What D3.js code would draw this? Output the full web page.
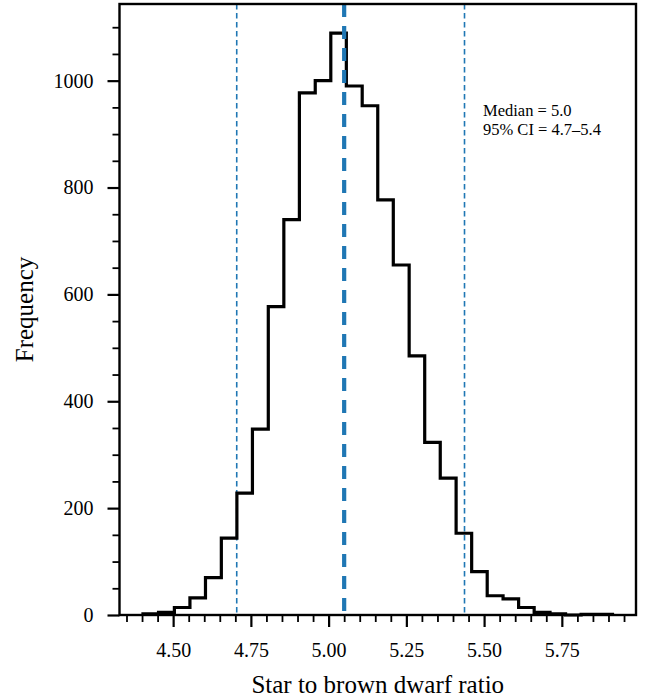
<!DOCTYPE html>
<html>
<head>
<meta charset="utf-8">
<script src="https://cdn.jsdelivr.net/npm/d3@7"></script>
<style>
  html, body { margin: 0; padding: 0; background: #fff; }
  svg { display: block; }
  text { font-family: "Liberation Serif", "Times New Roman", serif; fill: #000; }
</style>
</head>
<body>
<svg id="chart" width="654" height="699"></svg>
<script>
// ---- Data ----
const binEdges = [4.403, 4.453, 4.504, 4.554, 4.604, 4.655, 4.705, 4.755, 4.806, 4.856,
                  4.906, 4.957, 5.007, 5.057, 5.108, 5.158, 5.208, 5.259, 5.309, 5.359,
                  5.410, 5.460, 5.510, 5.561, 5.611, 5.661, 5.712, 5.762, 5.812, 5.863, 5.913];
const counts = [2, 5, 14, 32, 70, 144, 228, 348, 577, 740,
                977, 1000, 1089, 990, 953, 777, 655, 485, 323, 256,
                153, 81, 36, 30, 14, 5, 2, 0, 1, 1];
const medianValue = 5.05;
const ciValues = [4.7045, 5.437];
const xTickValues = [4.50, 4.75, 5.00, 5.25, 5.50, 5.75];
const yTickValues = [0, 200, 400, 600, 800, 1000];
const annotationLines = ["Median = 5.0", "95% CI = 4.7\u20135.4"];
const xLabel = "Star to brown dwarf ratio";
const yLabel = "Frequency";

// ---- Layout ----
const L = 119.5, R = 636, T = 4, B = 615;
const svg = d3.select("#chart");

const lo = binEdges[0], hi = binEdges[binEdges.length - 1];
const xm = (hi - lo) * 0.05;
const x = d3.scaleLinear().domain([lo - xm, hi + xm]).range([L, R]);
const y = d3.scaleLinear().domain([0, d3.max(counts) * 1.05]).range([B, T]);

const blue = "#1f77b4";

// minor tick values
const xMinor = d3.range(4.35, 5.96, 0.05).map(v => +v.toFixed(2)).filter(v => !xTickValues.some(t => Math.abs(t - v) < 1e-6));
const yMinor = d3.range(50, 1101, 50).filter(v => v % 200 !== 0);

// ---- Histogram step outline ----
const pts = [[binEdges[0], 0]];
counts.forEach((c, i) => { pts.push([binEdges[i], c]); pts.push([binEdges[i + 1], c]); });
pts.push([binEdges[binEdges.length - 1], 0]);
const line = d3.line().x(d => x(d[0])).y(d => y(d[1]));

// Vertical reference lines
svg.selectAll("line.ci").data(ciValues).join("line")
  .attr("class", "ci")
  .attr("x1", d => x(d)).attr("x2", d => x(d))
  .attr("y1", T).attr("y2", B)
  .attr("stroke", blue).attr("stroke-width", 1.6)
  .attr("stroke-dasharray", "5.5,3.5");

svg.append("path")
  .attr("d", line(pts))
  .attr("fill", "none")
  .attr("stroke", "#000")
  .attr("stroke-width", 3.2)
  .attr("stroke-linejoin", "miter");

svg.append("line")
  .attr("x1", x(medianValue)).attr("x2", x(medianValue))
  .attr("y1", T).attr("y2", B)
  .attr("stroke", blue).attr("stroke-width", 4.2)
  .attr("stroke-dasharray", "13,9");

// ---- Axes ----
const xAxis = svg.append("g").attr("transform", `translate(0,${B})`)
  .call(d3.axisBottom(x).tickValues(xTickValues).tickFormat(d3.format(".2f")).tickSize(12).tickPadding(16));
const xAxisMinor = svg.append("g").attr("transform", `translate(0,${B})`)
  .call(d3.axisBottom(x).tickValues(xMinor).tickFormat("").tickSize(7));
const yAxis = svg.append("g").attr("transform", `translate(${L},0)`)
  .call(d3.axisLeft(y).tickValues(yTickValues).tickFormat(d3.format("d")).tickSize(12).tickPadding(14));
const yAxisMinor = svg.append("g").attr("transform", `translate(${L},0)`)
  .call(d3.axisLeft(y).tickValues(yMinor).tickFormat("").tickSize(7));

[xAxis, xAxisMinor, yAxis, yAxisMinor].forEach(g => g.select(".domain").remove());
[xAxis, yAxis].forEach(g => g.selectAll(".tick line").attr("stroke", "#000").attr("stroke-width", 2.2));
[xAxisMinor, yAxisMinor].forEach(g => g.selectAll(".tick line").attr("stroke", "#000").attr("stroke-width", 1.8));
[xAxis, yAxis].forEach(g => g.selectAll(".tick text")
  .style("font-family", "'Liberation Serif', 'Times New Roman', serif")
  .style("font-size", "20px").attr("fill", "#000"));
xAxis.selectAll(".tick text").attr("dy", "0.71em");

// Frame (spines)
svg.append("rect")
  .attr("x", L).attr("y", T).attr("width", R - L).attr("height", B - T)
  .attr("fill", "none").attr("stroke", "#000").attr("stroke-width", 2.4);

// ---- Labels ----
svg.append("text")
  .attr("x", (L + R) / 2).attr("y", 693)
  .attr("text-anchor", "middle")
  .style("font-size", "25px")
  .text(xLabel);

svg.append("text")
  .attr("transform", `translate(33,${(T + B) / 2}) rotate(-90)`)
  .attr("text-anchor", "middle")
  .style("font-size", "25px")
  .text(yLabel);

svg.selectAll("text.anno").data(annotationLines).join("text")
  .attr("class", "anno")
  .attr("x", 483)
  .attr("y", (d, i) => 116 + i * 18.5)
  .style("font-size", "16.5px")
  .text(d => d);
</script>
</body>
</html>
